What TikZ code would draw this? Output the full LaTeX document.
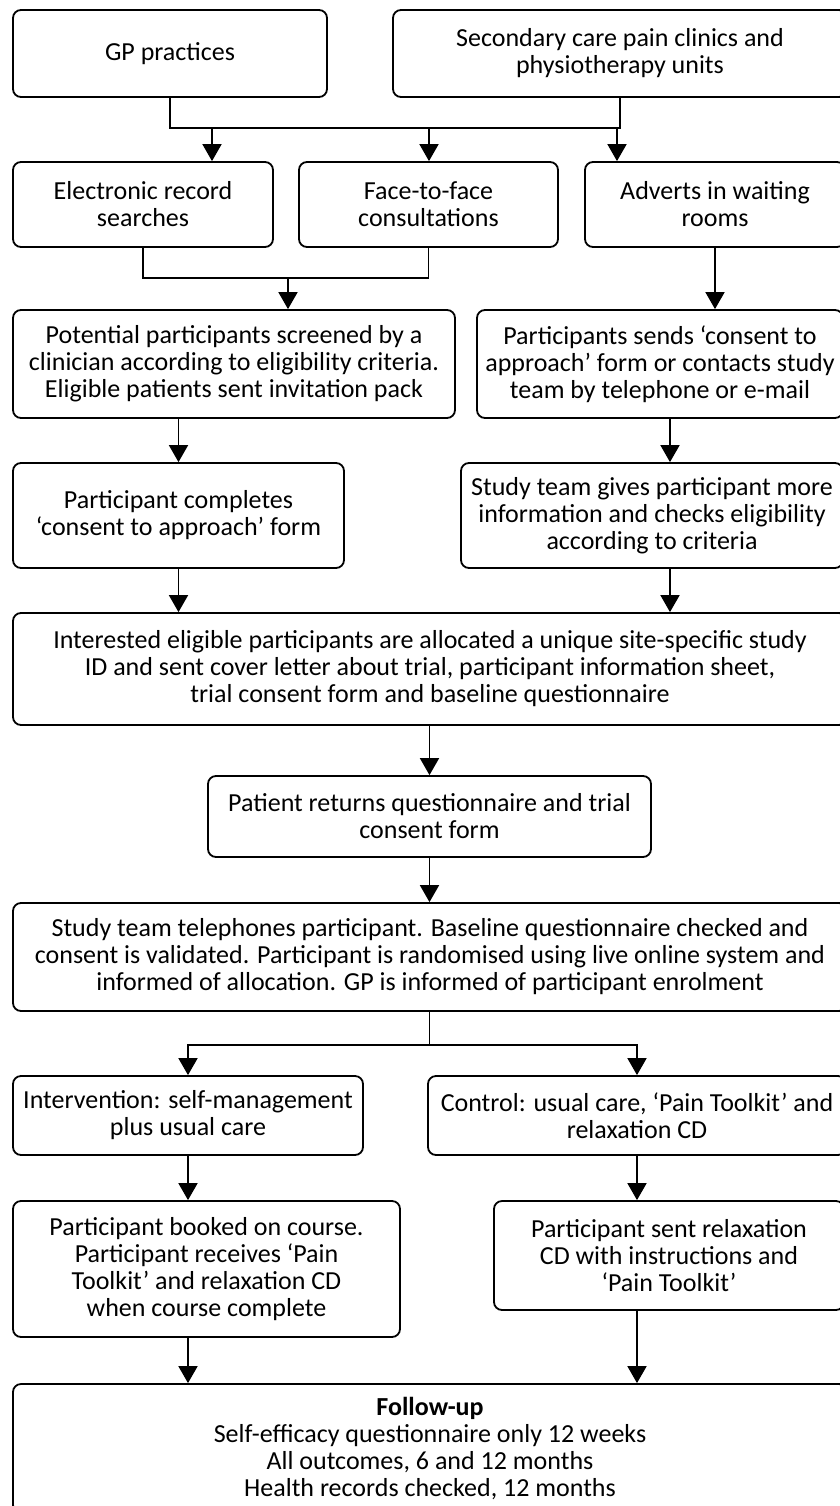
\documentclass[tikz,border=0pt]{standalone}
\usepackage{fontspec}
\setmainfont{Carlito}
\usetikzlibrary{arrows.meta}

\begin{document}
\begin{tikzpicture}[x=0.5pt, y=-0.5pt, line width=0.9pt,
        box/.style={draw, rounded corners=4pt, align=center, inner sep=2pt,
            font=\fontsize{13}{13.5}\selectfont},
        arr/.style={-{Triangle[width=9.5pt, length=8.5pt]}}
    ]
        \useasboundingbox (0,0) rectangle (840,1506);
        \clip (0,0) rectangle (840,1506);

        % sources
        \node[box, minimum width=157pt, minimum height=43.5pt] (gp) at (170,53.5) {GP practices};
        \node[box, minimum width=227pt, minimum height=43.5pt] (sec) at (620,53.5) {Secondary care pain clinics and\\physiotherapy units};

        % recruitment routes
        \node[box, minimum width=130pt, minimum height=42.5pt] (ele) at (143,204.5) {Electronic record\\searches};
        \node[box, minimum width=129.5pt, minimum height=42.5pt] (face) at (428.5,204.5) {Face-to-face\\consultations};
        \node[box, minimum width=130pt, minimum height=42.5pt] (adv) at (715,204.5) {Adverts in waiting\\rooms};

        \node[box, minimum width=221pt, minimum height=54pt] (pot) at (234,364) {Potential participants screened by a\\clinician according to eligibility criteria.\\Eligible patients sent invitation pack};
        \node[box, minimum width=183pt, minimum height=54pt] (sends) at (660,364) {Participants sends ‘consent to\\approach’ form or contacts study\\team by telephone or e-mail};

        \node[box, minimum width=165.5pt, minimum height=52.5pt] (comp) at (178.5,515.5) {Participant completes\\‘consent to approach’ form};
        \node[box, minimum width=191pt, minimum height=52.5pt] (study) at (652,515.5) {Study team gives participant more\\information and checks eligibility\\according to criteria};

        % enrolment
        \node[box, minimum width=417pt, minimum height=56pt] (inter) at (430,669) {Interested eligible participants are allocated a unique site-specific study\\ID and sent cover letter about trial, participant information sheet,\\trial consent form and baseline questionnaire};
        \node[box, minimum width=221.5pt, minimum height=40.5pt] (pat) at (429.5,816.5) {Patient returns questionnaire and trial\\consent form};
        \node[box, minimum width=417pt, minimum height=54pt] (tel) at (430,957) {Study team telephones participant. Baseline questionnaire checked and\\consent is validated. Participant is randomised using live online system and\\informed of allocation. GP is informed of participant enrolment};

        % arms
        \node[box, minimum width=175pt, minimum height=39.5pt] (intv) at (188,1115.5) {Intervention: self-management\\plus usual care};
        \node[box, minimum width=209pt, minimum height=39.5pt] (ctrl) at (637,1115.5) {Control: usual care, ‘Pain Toolkit’ and\\relaxation CD};
        \node[box, minimum width=193.5pt, minimum height=68pt] (book) at (206.5,1269) {Participant booked on course.\\Participant receives ‘Pain\\Toolkit’ and relaxation CD\\when course complete};
        \node[box, minimum width=175pt, minimum height=54.5pt] (sent) at (669,1255.5) {Participant sent relaxation\\CD with instructions and\\‘Pain Toolkit’};

        \node[box, minimum width=417pt, minimum height=64.5pt] (fol) at (430,1448.5) {{\bfseries Follow-up}\\Self-efficacy questionnaire only 12 weeks\\All outcomes, 6 and 12 months\\Health records checked, 12 months};

        % connectors
        \coordinate (a1) at (212,128);
        \coordinate (a2) at (429,128);
        \coordinate (a3) at (617,128);
        \draw (gp.south) |- (a2) -| (sec.south);
        \draw[arr] (a1) -- (a1 |- ele.north);
        \draw[arr] (a2) -- (a2 |- face.north);
        \draw[arr] (a3) -- (a3 |- adv.north);

        \coordinate (a4) at (288,278);
        \draw (ele.south) |- (a4) -| (face.south);
        \draw[arr] (a4) -- (a4 |- pot.north);
        \draw[arr] (adv.south) -- (adv.south |- sends.north);

        \draw[arr] (pot.south -| comp.north) -- (comp.north);
        \path ([xshift=5pt]sends.south) coordinate (a5);
        \draw[arr] (a5) -- (a5 |- study.north);
        \draw[arr] (comp.south) -- (comp.south |- inter.north);
        \draw[arr] (a5 |- study.south) -- (a5 |- inter.north);

        \draw[arr] (inter.south -| pat.north) -- (pat.north);
        \draw[arr] (pat.south) -- (pat.south |- tel.north);

        \draw (tel.south -| pat.south) -- ++(0,33) coordinate (a6);
        \draw[arr] (a6) -| (intv.north);
        \draw[arr] (a6) -| (ctrl.north);

        \draw[arr] (intv.south) -- (intv.south |- book.north);
        \draw[arr] (ctrl.south) -- (ctrl.south |- sent.north);
        \draw[arr] (intv.south |- book.south) -- (intv.south |- fol.north);
        \draw[arr] (ctrl.south |- sent.south) -- (ctrl.south |- fol.north);
    \end{tikzpicture}
\end{document}
